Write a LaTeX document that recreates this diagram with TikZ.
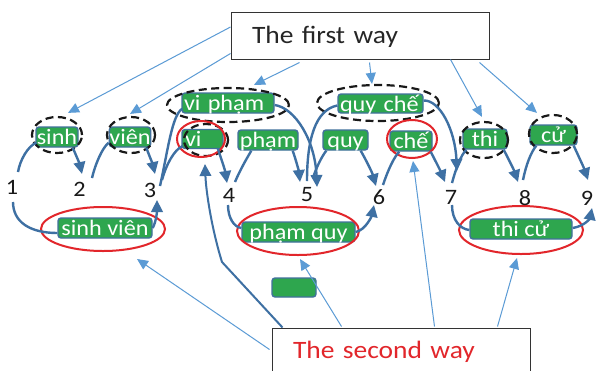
\documentclass[tikz,border=0pt]{standalone}
\usepackage{fontspec}
\setmainfont{Carlito}[FakeStretch=1.1]
\usetikzlibrary{shapes.geometric,arrows.meta,calc}

\definecolor{edgeblue}{HTML}{41719C}
\definecolor{wireblue}{HTML}{3E70A3}
\definecolor{pointblue}{HTML}{5B9BD5}
\definecolor{wordgreen}{HTML}{2EA64E}
\definecolor{ringred}{HTML}{E2262B}
\definecolor{titlegray}{HTML}{262626}

\begin{document}
\begin{tikzpicture}[x=1pt,y=-1pt,
  wordbox/.style={draw=edgeblue, line width=1.4pt, fill=wordgreen, rounded corners=3pt,
    text=white, font=\fontsize{22}{24}\selectfont, inner sep=0pt,
    minimum height=20pt, text height=17pt, text depth=2pt},
  numlabel/.style={font=\fontsize{22}{24}\selectfont, text=black!90, inner sep=1pt},
  dashring/.style={ellipse, draw=black!90, line width=2.2pt, dash pattern=on 8pt off 4.5pt, inner sep=0pt},
  redring/.style={ellipse, draw=ringred, line width=2pt, inner sep=0pt},
  wire/.style={draw=wireblue, line width=2.4pt},
  wirearrow/.style={wire, -{Triangle[length=12pt,width=11.5pt]}},
  pointer/.style={draw=pointblue, line width=1pt, -{Triangle[length=11pt,width=10pt]}},
  waybox/.style={draw=black!80, line width=1pt, fill=white, font=\fontsize{25}{28}\selectfont,
    text width=216pt, align=left, inner xsep=21pt, inner ysep=0pt,
    text height=17pt, text depth=2pt}
]
\path[use as bounding box] (0,0) rectangle (597,370);
\clip (0,0) rectangle (597,370);
\fill[white] (0,0) rectangle (597,370);

% caption boxes
\node[waybox, minimum height=47pt, text=titlegray] (first) at (360,35.5) {The first way};
\node[waybox, minimum height=45pt, text=ringred] (second) at (401,350.5) {The second way};

% word boxes
\node[wordbox, text width=88pt, align=left, inner xsep=2pt] (vipham) at (228,103) {vi phạm};
\node[wordbox, text width=81pt, align=left, inner xsep=2pt, minimum height=19pt] (quyche) at (380.5,103.5) {quy chế};
\node[wordbox, minimum width=42pt] (sinh) at (57,137) {sinh};
\node[wordbox, minimum width=40pt] (vien) at (130,137) {viên};
\node[wordbox, text width=35pt, align=left, inner xsep=3pt, minimum height=18pt] (vi) at (202.5,139) {vi};
\node[wordbox, minimum width=60pt] (pham) at (268,140) {phạm};
\node[wordbox, minimum width=45pt] (quy) at (345.5,140) {quy};
\node[wordbox, minimum width=42pt] (che) at (411,141) {chế};
\node[wordbox, minimum width=44pt] (thi) at (485,139) {thi};
\node[wordbox, minimum width=47pt] (cu) at (553.5,135) {cử};
\node[wordbox, minimum width=94pt] (sinhvien) at (105,228) {sinh viên};
\node[wordbox, minimum width=113pt] (phamquy) at (298.5,232) {phạm quy};
\node[wordbox, minimum width=102pt] (thicu) at (521,229) {thi cử};
\node[wordbox, minimum width=44pt, minimum height=19pt] (blank) at (294,287.5) {};

% rings round the words
\node[dashring, minimum width=50pt, minimum height=36pt] (sinhE) at (57,135) {};
\node[dashring, minimum width=48pt, minimum height=36pt] (vienE) at (131,135) {};
\node[dashring, minimum width=122pt, minimum height=34pt] (viphamE) at (228,105) {};
\node[dashring, minimum width=44pt, minimum height=32pt] (viD) at (206,140) {};
\node[redring, minimum width=48pt, minimum height=36pt] (viE) at (201,139) {};
\node[dashring, minimum width=122pt, minimum height=36pt] (quycheE) at (378,103) {};
\node[redring, minimum width=50pt, minimum height=38pt] (cheE) at (412,139) {};
\node[dashring, minimum width=48pt, minimum height=36pt] (thiE) at (484,140) {};
\node[dashring, minimum width=48pt, minimum height=38pt] (cuE) at (553,134) {};
\node[redring, minimum width=124pt, minimum height=44pt] (sinhvienE) at (103,229) {};
\node[redring, minimum width=122pt, minimum height=48pt] (phamquyE) at (298,231) {};
\node[redring, minimum width=124pt, minimum height=48pt] (thicuE) at (521,230) {};

% positions between syllables
\node[numlabel] (n1) at (12,187) {1};
\node[numlabel] (n2) at (79.5,189) {2};
\node[numlabel] (n3) at (150,190) {3};
\node[numlabel] (n4) at (229,195) {4};
\node[numlabel] (n5) at (307,195) {5};
\node[numlabel] (n6) at (379,197) {6};
\node[numlabel] (n7) at (451,197) {7};
\node[numlabel] (n8) at (525,198) {8};
\node[numlabel] (n9) at (587,198) {9};

% single syllables and two-syllable words above the positions
\draw[wire] ($(n1)+(6,-15)$) .. controls (20,160) and (28,146) .. ($(sinh.south west)+(1,-5)$);
\draw[wirearrow] ($(sinh.south east)+(-6,0)$) .. controls (76,155) and (80,165) .. ($(n2)+(2.5,-15)$);
\draw[wire] ($(n2)+(12.5,-11)$) .. controls (95,165) and (102,148) .. ($(vien.south west)+(0,-5)$);
\draw[wirearrow] ($(vien.south east)+(-5,0)$) .. controls (149,155) and (153,165) .. ($(n3)+(5,-16)$);
\draw[wire] ($(n3)+(12,-10)$) .. controls (166,165) and (174,150) .. ($(vi.south west)+(1,-3)$);
\draw[wire] ($(n3)+(10,-4)$) .. controls (168,150) and (172,115) .. ($(vipham.south west)+(1,-5)$);
\draw[wirearrow] ($(vi.south east)+(-6,-1)$) .. controls (221,158) and (225,170) .. ($(n4)+(-2,-12)$);
\draw[wire] ($(n4)+(6,-13)$) .. controls (240,170) and (247,158) .. ($(pham.south west)+(14,0)$);
\draw[wirearrow] ($(pham.south east)+(-6,0)$) .. controls (296,160) and (299,172) .. ($(n5)+(-7,-13)$);
\draw[wirearrow] ($(vipham.east)+(0,2)$) .. controls (295,108) and (315,140) .. ($(n5)+(10,-8)$);
\draw[wire] ($(n5)+(6,-17)$) .. controls (316,168) and (322,156) .. ($(quy.south west)+(4,0)$);
\draw[wire] ($(n5)+(0,-14)$) .. controls (307,140) and (315,110) .. ($(quyche.west)+(0,2)$);
\draw[wirearrow] ($(quy.south east)+(-8,0)$) .. controls (366,160) and (372,172) .. ($(n6)+(-3,-11)$);
\draw[wire] ($(n6)+(4,-12)$) .. controls (388,170) and (394,157) .. ($(che.south west)+(10,0)$);
\draw[wirearrow] ($(che.south east)+(-2,0)$) .. controls (435,160) and (441,172) .. ($(n7)+(-6,-15)$);
\draw[wirearrow] ($(quyche.east)+(0,-3)$) .. controls (440,100) and (455,130) .. ($(n7)+(6,-26)$);
\draw[wire] ($(n7)+(1,-14)$) .. controls (456,168) and (461,155) .. ($(thi.south west)+(4,0)$);
\draw[wirearrow] ($(thi.south east)+(-4,0)$) .. controls (508,158) and (514,170) .. ($(n8)+(-7,-16)$);
\draw[wire] ($(n8)+(-2,-18)$) .. controls (526,165) and (531,152) .. ($(cu.south west)+(7,0)$);
\draw[wirearrow] ($(cu.south east)+(-4,0)$) .. controls (578,155) and (584,168) .. ($(n9)+(1,-18)$);

% two-syllable words below the positions
\draw[wire] ($(n1)+(1,15)$) .. controls (13,222) and (30,233) .. ($(sinhvien.west)+(0,5)$);
\draw[wirearrow] (sinhvien.east) .. controls (156,222) and (157,212) .. ($(n3)+(7,10)$);
\draw[wire] ($(n4)+(-1,10)$) .. controls (228,218) and (234,227) .. ($(phamquy.west)+(0,-4)$);
\draw[wirearrow] (phamquy.east) .. controls (366,230) and (372,215) .. ($(n6)+(-5,8)$);
\draw[wire] ($(n7)+(1,8)$) .. controls (452,220) and (460,229) .. ($(thicu.west)+(0,1)$);
\draw[wirearrow] ($(thicu.east)+(0,-1)$) .. controls (585,226) and (590,218) .. ($(n9)+(5,10)$);

% pointers from the first caption
\draw[pointer] ($(first.west)+(0,-8.5)$) -- ($(sinhE.north)+(11,-3)$);
\draw[pointer] ($(first.south west)+(0,-6)$) -- ($(vienE.north)+(-1,-2)$);
\draw[pointer] ($(first.south west)+(69,3)$) -- ($(viphamE.north)+(26,-2)$);
\draw[pointer] ($(first.south west)+(139,3)$) -- ($(quycheE.north)+(-6,0)$);
\draw[pointer] ($(first.south west)+(220,0)$) -- ($(thiE.north)+(-2,-4)$);
\draw[pointer] ($(first.south west)+(249,3)$) -- ($(cuE.north)+(-16,-1)$);

% pointers from the second caption
\draw[pointer] ($(second.west)+(-2,-1)$) -- ($(sinhvienE.south)+(34,7)$);
\draw[pointer] ($(second.north west)+(70,-1)$) -- ($(phamquyE.south)+(2,3)$);
\draw[pointer] ($(second.north west)+(163,-1)$) -- ($(cheE.south)+(1,2)$);
\draw[pointer] ($(second.north west)+(226,-1)$) -- ($(thicuE.south)+(-4,3)$);
\coordinate (bend) at (222,262);
\draw[wirearrow, line width=2pt] ($(second.north west)+(11,0)$) -- (bend)
  .. controls (212,230) and (206,192) .. ($(viE.south)+(4,6)$);
\end{tikzpicture}
\end{document}
